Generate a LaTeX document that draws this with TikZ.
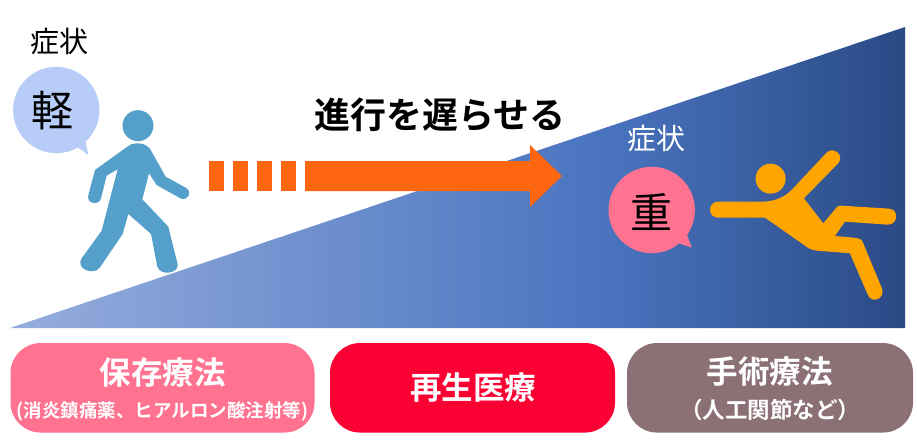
\documentclass[tikz,border=0pt]{standalone}
\usepackage{fontspec}
\setmainfont{Noto Sans CJK JP}
\newfontfamily\jpbold{Noto Sans CJK JP Bold}
\definecolor{slopeA}{HTML}{96ADDD}
\definecolor{slopeB}{HTML}{4A74C0}
\definecolor{slopeC}{HTML}{2A4A85}
\pgfdeclarehorizontalshading{slopeshade}{100bp}{
  color(0bp)=(slopeA); color(25bp)=(slopeA); color(58bp)=(slopeB); color(75bp)=(slopeC); color(100bp)=(slopeC)}
\definecolor{bandorange}{HTML}{FF6610}
\definecolor{walkerblue}{HTML}{55A0CB}
\definecolor{fallorange}{HTML}{FFA500}
\definecolor{bubbleblue}{HTML}{B7CDF7}
\definecolor{bubblepink}{HTML}{FF7391}
\definecolor{careRed}{HTML}{FB0033}
\definecolor{careBrown}{HTML}{8B7075}
\tikzset{
  carebox/.style={rounded corners=30pt,inner sep=0pt,minimum height=89.5pt},
  lab/.style={inner sep=0pt,anchor=center},
  headline/.style={lab,text=white,font=\jpbold\fontsize{31.5}{32}\selectfont},
  subline/.style={lab,text=white,font=\jpbold\fontsize{18.5}{19}\selectfont},
  dashbar/.style={fill=bandorange}
}
\begin{document}
\begin{tikzpicture}[x=1pt,y=-1pt]
\useasboundingbox (0,0) rectangle (917,445);

% rising severity wedge
\shade[shading=slopeshade] (10,328) -- (905,27) -- (905,328) -- cycle;

% delay arrow: dashed lead-in and solid shaft
\fill[dashbar] (209,161) rectangle (224,191);
\fill[dashbar] (233,161) rectangle (248,191);
\fill[dashbar] (257,161) rectangle (272,191);
\fill[dashbar] (281,161) rectangle (296,191);
\fill[dashbar] (305,161) -- (530,161) -- (530,145) -- (562,176) -- (530,207) -- (530,191) -- (305,191) -- cycle;

% speech bubbles
\fill[bubbleblue] (56.3,110) circle (43.2);
\fill[bubbleblue] (76,146) -- (88.3,155) -- (85,138) -- cycle;
\fill[bubblepink] (651.7,210) circle (43.2);
\fill[bubblepink] (678,243) -- (691.7,247.7) -- (686,232) -- cycle;

% walking figure
\begin{scope}[x=0.3333pt,y=-0.3333pt,shift={(0,30)}]
  \fill[walkerblue] (414,347) circle (46.5);
  \fill[walkerblue] (410,400) .. controls (430,400) and (445,405) .. (455,425) -- (497,500) -- (557,533)
    .. controls (577,545) and (567,572) .. (543,566) -- (470,525) -- (447,490) -- (427,568)
    -- (505,650) -- (533,762) .. controls (538,790) and (482,800) .. (472,770) -- (453,672)
    -- (385,612) -- (368,672) -- (300,772) .. controls (280,800) and (225,775) .. (245,745)
    -- (305,662) -- (353,478) -- (320,497) -- (303,565) .. controls (297,588) and (258,582) .. (265,555)
    -- (285,480) -- (385,408) .. controls (392,402) and (400,400) .. (410,400) -- cycle;
\end{scope}

% falling figure
\begin{scope}[x=0.3333pt,y=-0.3333pt,shift={(1800,330)}]
  \fill[fallorange] (512,206) circle (45);
  \fill[fallorange] (355,275) -- (495,275) .. controls (530,272) and (555,260) .. (575,240) -- (680,128)
    .. controls (700,108) and (735,135) .. (715,160) -- (612,265) -- (670,340) -- (708,295)
    .. controls (712,289) and (716,287) .. (722,287) -- (868,296) .. controls (898,298) and (895,346) .. (862,344)
    -- (735,335) -- (705,378) -- (770,384) .. controls (780,385) and (787,390) .. (790,400) -- (846,535)
    .. controls (858,565) and (815,585) .. (803,553) -- (750,430) -- (650,422)
    .. controls (635,420) and (625,415) .. (615,407) -- (495,323) -- (355,323)
    .. controls (322,323) and (322,275) .. (355,275) -- cycle;
\end{scope}

% captions and grades
\node[lab,font=\fontsize{29}{29}\selectfont] (symL) at (59.5,41) {症状};
\node[lab,font=\fontsize{42}{42}\selectfont] (grL) at (52,111) {軽};
\node[lab,font=\jpbold\fontsize{36}{36}\selectfont] (title) at (440,115) {進行を遅らせる};
\node[lab,text=white,font=\fontsize{29}{29}\selectfont] (symR) at (656.5,138) {症状};
\node[lab,font=\fontsize{42}{42}\selectfont] (grR) at (651,212) {重};

% treatment boxes
\node[carebox,fill=bubblepink,minimum width=304pt] (conserv) at (162.5,387.8) {};
\node[carebox,fill=careRed,minimum width=285pt] (regen) at (472.5,387.8) {};
\node[carebox,fill=careBrown,minimum width=286pt] (surg) at (770,387.8) {};

\node[headline] (conservT) at (162.5,373) {保存療法};
\node[subline] (conservS) at (162.5,411) {(消炎鎮痛薬、ヒアルロン酸注射等)};
\node[headline] (regenT) at (473,388) {再生医療};
\node[headline] (surgT) at (769.5,372) {手術療法};
\node[lab,text=white,font=\jpbold\fontsize{22.5}{23}\selectfont] (surgS) at (770,410) {（人工関節など）};
\end{tikzpicture}
\end{document}
